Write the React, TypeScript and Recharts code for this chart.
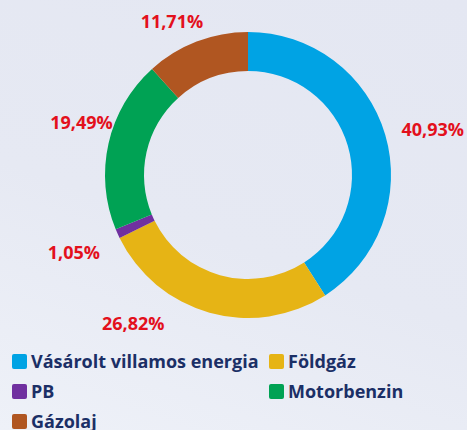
import { PieChart, Pie, Cell, Legend } from 'recharts'

// energy mix shares, %
const categories = ['Vásárolt villamos energia', 'Földgáz', 'PB', 'Motorbenzin', 'Gázolaj']
const shares = [40.93, 26.82, 1.05, 19.49, 11.71]
const labels = ['40,93%', '26,82%', '1,05%', '19,49%', '11,71%']
const colors = ['#00a3e4', '#e6b415', '#7030a0', '#00a254', '#b05621']

// label nudges away from the plain radial position (Excel placed them by hand)
const labelNudge: Record<string, [number, number]> = {
  'Vásárolt villamos energia': [11, 5],
  'Földgáz': [-66, -26],
  'PB': [-9, 3],
  'Motorbenzin': [10, -13],
  'Gázolaj': [-11, 15]
}

const data = categories.map((name, i) => ({ name, value: shares[i], label: labels[i] }))

const RADIAN = Math.PI / 180
const FONT = '"Open Sans", Lato, sans-serif'

const renderLabel = (props: any) => {
  const { cx, cy, midAngle, outerRadius, payload } = props
  const r = outerRadius + 38
  const [dx, dy] = labelNudge[payload.name] ?? [0, 0]
  const x = cx + r * Math.cos(-midAngle * RADIAN) + dx
  const y = cy + r * Math.sin(-midAngle * RADIAN) + dy
  return (
    <text
      x={x}
      y={y}
      textAnchor="middle"
      dominantBaseline="central"
      fill="#e3101c"
      fontFamily={FONT}
      fontWeight={700}
      fontSize={18}
    >
      {payload.label}
    </text>
  )
}

const renderLegend = () => (
  <div
    style={{
      display: 'grid',
      gridTemplateColumns: '257px 180px',
      rowGap: 8,
      fontFamily: FONT,
      fontWeight: 700,
      fontSize: 18,
      color: '#1b2f66'
    }}
  >
    {categories.map((name, i) => (
      <div key={name} style={{ display: 'flex', alignItems: 'center', height: 22 }}>
        <span
          style={{
            width: 15,
            height: 15,
            borderRadius: 2,
            background: colors[i],
            marginRight: 4,
            flexShrink: 0
          }}
        />
        {name}
      </div>
    ))}
  </div>
)

export default function App() {
  return (
    <div
      style={{
        position: 'fixed',
        left: 0,
        top: 0,
        width: 467,
        height: 430,
        background: 'linear-gradient(20deg, #eef1f8 0%, #e6e9f3 45%, #e4e7f2 100%)',
        overflow: 'hidden'
      }}
    >
      <PieChart width={467} height={430} margin={{ top: 0, right: 0, bottom: 0, left: 0 }}>
        <Pie
          data={data}
          dataKey="value"
          nameKey="name"
          cx={248}
          cy={175}
          innerRadius={104}
          outerRadius={143}
          startAngle={90}
          endAngle={-270}
          stroke="none"
          label={renderLabel}
          labelLine={false}
          isAnimationActive={false}
        >
          {data.map((d, i) => (
            <Cell key={d.name} fill={colors[i]} />
          ))}
        </Pie>
        <Legend
          content={renderLegend}
          wrapperStyle={{ left: 12, top: 350, width: 450 }}
        />
      </PieChart>
    </div>
  )
}
